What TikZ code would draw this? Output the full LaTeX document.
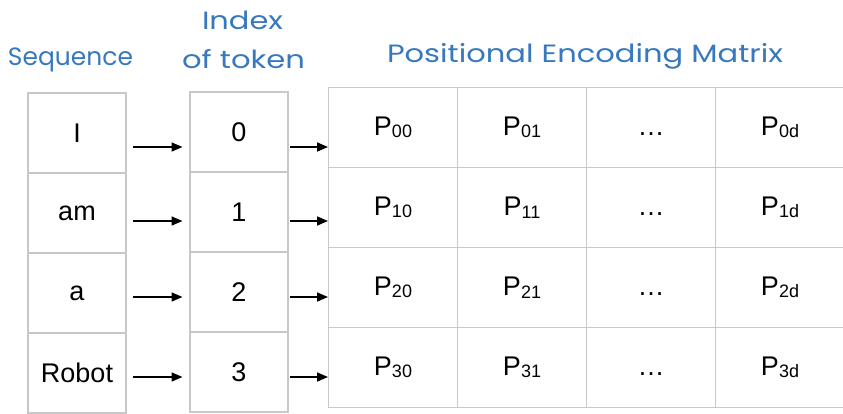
\documentclass[tikz,border=0pt]{standalone}
\usepackage{fontspec}
\setmainfont{Liberation Sans}
\newfontfamily\handfont{Poppins}
\usetikzlibrary{arrows.meta}
\definecolor{gridgray}{RGB}{200,200,200}
\definecolor{hblue}{RGB}{55,120,190}
\newcommand\Pk[1]{P\raisebox{-2.5pt}{\fontsize{18}{18}\selectfont #1}}
\newcommand\hdrtext[2]{\resizebox{#1pt}{\height}{#2}}
\begin{document}
\begin{tikzpicture}[x=1pt,y=-1pt,
  cell/.style={draw=gridgray, line width=1.3pt, minimum width=98pt, minimum height=80pt,
    inner sep=0pt, outer sep=0pt, anchor=north west, font=\fontsize{27}{27}\selectfont},
  mcell/.style={cell, minimum width=129pt},
  hdr/.style={text=hblue, font=\handfont\fontsize{25}{25}\selectfont, anchor=base, inner sep=0pt},
  arr/.style={-{Triangle[length=11pt,width=9pt]}, line width=1.6pt}]
\useasboundingbox (0,0) rectangle (843,413);
% headers
\node[hdr] (hseq) at (70.5,65) {\hdrtext{125}{Sequence}};
\node[hdr] (hidx1) at (242.5,29) {\hdrtext{81}{Index}};
\node[hdr] (hidx2) at (243.5,68) {\hdrtext{123}{of token}};
\node[hdr] (hmat) at (585,62) {\hdrtext{396}{Positional Encoding Matrix}};
% sequence column
\node[cell] (s0) at (28,93) {I};
\node[cell] (s1) at (28,173) {am};
\node[cell] (s2) at (28,253) {a};
\node[cell] (s3) at (28,333) {Robot};
% index column
\node[cell] (i0) at (190,92) {0};
\node[cell] (i1) at (190,172) {1};
\node[cell] (i2) at (190,252) {2};
\node[cell] (i3) at (190,332) {3};
% matrix
\foreach \r/\y in {0/87.5,1/167.5,2/247.5,3/327.5}{
  \node[mcell] (m\r0) at (328.5,\y) {\Pk{\r0}};
  \node[mcell] (m\r1) at (457.5,\y) {\Pk{\r1}};
  \node[mcell] (m\r2) at (586.5,\y) {\vphantom{\Pk{00}}…};
  \node[mcell] (m\r3) at (715.5,\y) {\Pk{\r d}};
}
% arrow rows
\coordinate (r0) at (0,147);
\coordinate (r1) at (0,221);
\coordinate (r2) at (0,297);
\coordinate (r3) at (0,377);
\foreach \r in {0,1,2,3}{
  \draw[arr, shorten <=7pt, shorten >=7.5pt] (s\r.east |- r\r) -- (i\r.west |- r\r);
  \draw[arr, shorten <=2pt, shorten >=0.5pt] (i\r.east |- r\r) -- (m\r0.west |- r\r);
}
\end{tikzpicture}
\end{document}
